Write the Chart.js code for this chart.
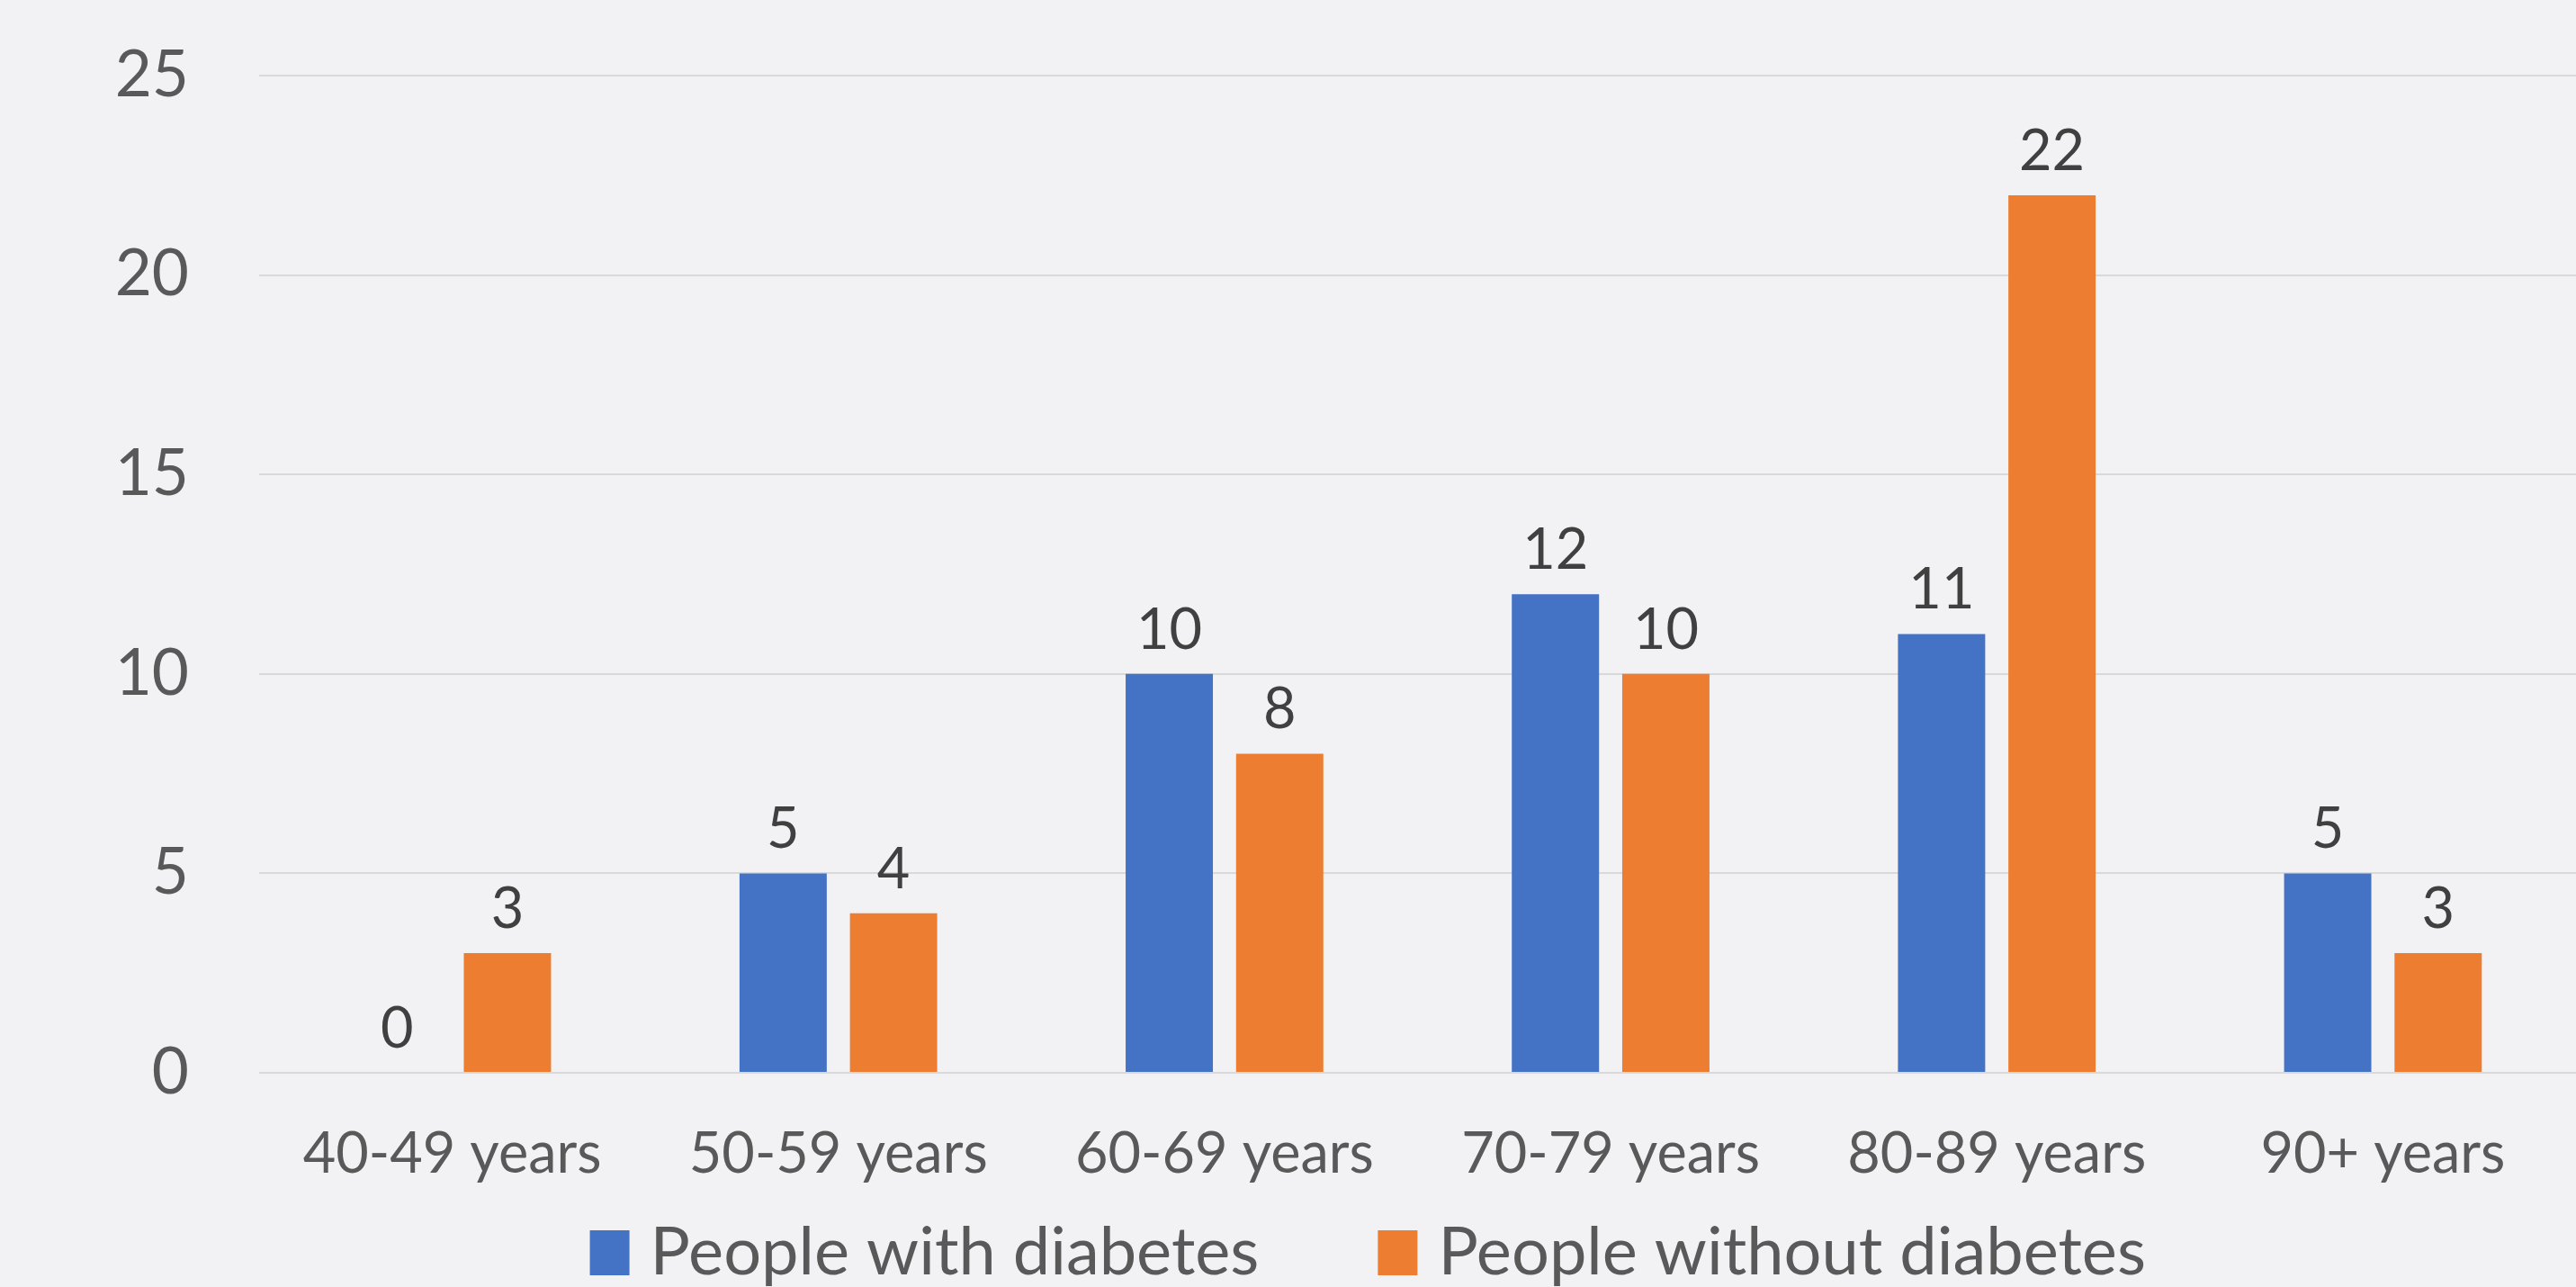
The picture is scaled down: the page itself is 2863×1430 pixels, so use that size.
<!DOCTYPE html>
<html>
<head>
<meta charset="utf-8">
<script src="https://cdn.jsdelivr.net/npm/chart.js@4"></script>
<style>
  html, body { margin: 0; padding: 0; background: #f2f2f4; }
  canvas { display: block; }
</style>
</head>
<body>
<canvas id="ageChart" width="2863" height="1430"></canvas>
<script>
var ageGroups = ['40-49 years', '50-59 years', '60-69 years', '70-79 years', '80-89 years', '90+ years'];
var withDiabetes = [0, 5, 10, 12, 11, 5];
var withoutDiabetes = [3, 4, 8, 10, 22, 3];
var yTicks = [0, 5, 10, 15, 20, 25];

var fontFamily = 'Lato, "Open Sans", sans-serif';

// value labels drawn above each bar
var barLabels = {
  id: 'barLabels',
  afterDatasetsDraw: function(chart) {
    var ctx = chart.ctx;
    ctx.save();
    ctx.font = '63px ' + fontFamily;
    ctx.fillStyle = '#404040';
    ctx.textAlign = 'center';
    ctx.textBaseline = 'alphabetic';
    chart.data.datasets.forEach(function(ds, i) {
      chart.getDatasetMeta(i).data.forEach(function(bar, j) {
        ctx.fillText(String(ds.data[j]), bar.x, bar.y - 28);
      });
    });
    ctx.restore();
  }
};

// legend row under the axis labels, excel style spacing
var bottomLegend = {
  id: 'bottomLegend',
  afterDraw: function(chart) {
    var ctx = chart.ctx;
    var boxW = 44, boxH = 50, textGap = 23, itemGap = 132;
    var cy = 1392;
    ctx.save();
    ctx.font = '74px ' + fontFamily;
    ctx.textBaseline = 'middle';
    ctx.textAlign = 'left';
    var items = chart.data.datasets.map(function(ds) {
      return { text: ds.label, color: ds.backgroundColor, w: ctx.measureText(ds.label).width };
    });
    var total = 0;
    items.forEach(function(it, i) {
      total += boxW + textGap + it.w + (i > 0 ? itemGap : 0);
    });
    var x = chart.width * 0.531 - total / 2;
    items.forEach(function(it) {
      ctx.fillStyle = it.color;
      ctx.fillRect(x, cy - boxH / 2, boxW, boxH);
      ctx.fillStyle = '#595959';
      ctx.fillText(it.text, x + boxW + textGap, cy);
      x += boxW + textGap + it.w + itemGap;
    });
    ctx.restore();
  }
};

var ctx = document.getElementById('ageChart').getContext('2d');

var myChart = new Chart(ctx, {
  type: 'bar',
  data: {
    labels: ageGroups,
    datasets: [{
      label: 'People with diabetes',
      data: withDiabetes,
      backgroundColor: '#4472c4'
    }, {
      label: 'People without diabetes',
      data: withoutDiabetes,
      backgroundColor: '#ed7d31'
    }]
  },
  options: {
    responsive: false,
    animation: false,
    devicePixelRatio: 1,
    layout: { padding: 0 },
    datasets: {
      bar: { categoryPercentage: 0.572, barPercentage: 0.79 }
    },
    scales: {
      x: {
        grid: { display: false },
        border: { display: false },
        ticks: {
          padding: 45,
          color: '#595959',
          font: { family: fontFamily, size: 63 },
          maxRotation: 0
        },
        afterFit: function(scale) { scale.height = 238; }
      },
      y: {
        min: 0,
        max: 25,
        afterBuildTicks: function(scale) {
          scale.ticks = yTicks.map(function(v) { return { value: v }; });
        },
        grid: { color: '#d9d9d9', lineWidth: 2, drawTicks: false },
        border: { display: false },
        ticks: {
          padding: 78,
          color: '#595959',
          font: { family: fontFamily, size: 71 }
        },
        afterFit: function(scale) {
          scale.width = 288;
          scale.paddingTop = 84;
          scale.paddingBottom = 0;
        }
      }
    },
    plugins: {
      legend: { display: false },
      tooltip: { enabled: false }
    }
  },
  plugins: [barLabels, bottomLegend]
});
</script>
</body>
</html>
